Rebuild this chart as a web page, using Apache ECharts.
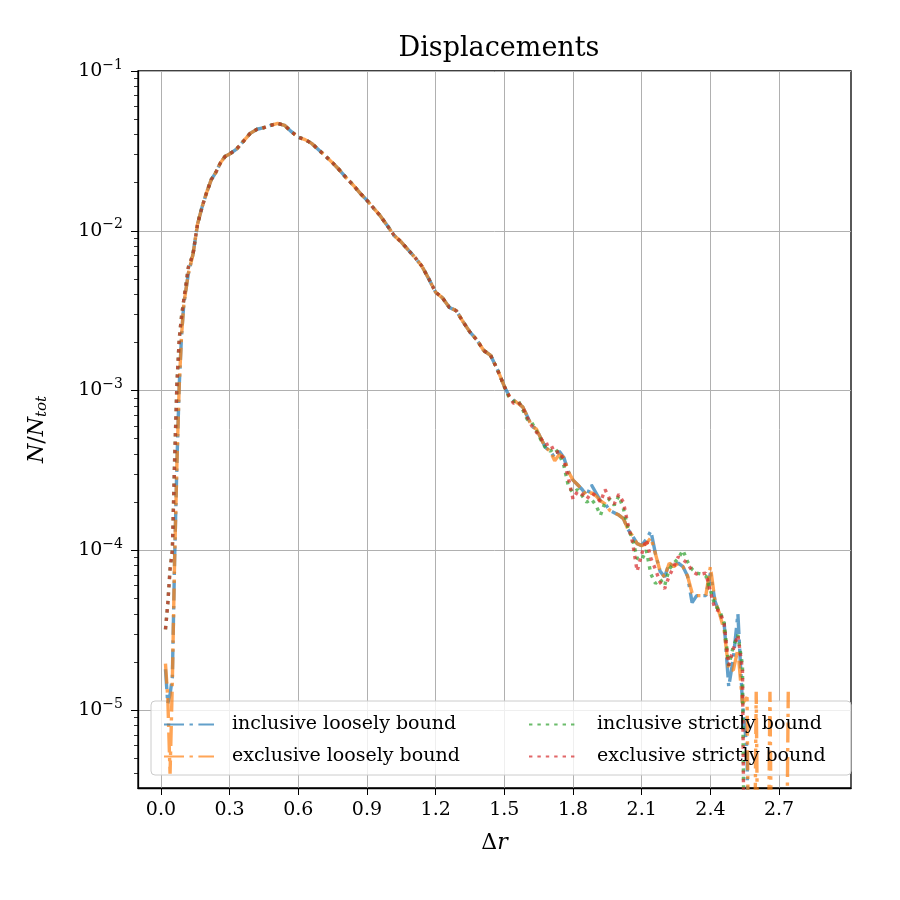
<!DOCTYPE html>
<html>
<head>
<meta charset="utf-8">
<script src="https://cdn.jsdelivr.net/npm/echarts@6/dist/echarts.min.js"></script>
<style>
html, body { margin: 0; padding: 0; background: #fff; }
#chart { width: 900px; height: 900px; }
</style>
</head>
<body>
<div id="chart"></div>
<script>
// displacement bins (x values shared by all four curves)
var xs = [0.02, 0.03, 0.04, 0.05, 0.06, 0.07, 0.08, 0.09, 0.10, 0.12,
    0.14, 0.16, 0.18, 0.20, 0.22, 0.24, 0.26, 0.28, 0.30,
    0.33, 0.36, 0.39, 0.42, 0.45, 0.48, 0.51, 0.54, 0.57, 0.60,
    0.63, 0.66, 0.69, 0.72, 0.75, 0.78, 0.81, 0.84, 0.87, 0.90,
    0.93, 0.96, 0.99, 1.02, 1.05, 1.08, 1.11, 1.14, 1.17, 1.20,
    1.23, 1.26, 1.29, 1.32, 1.35, 1.38, 1.41, 1.44, 1.47, 1.50,
    1.52, 1.54, 1.56, 1.58, 1.60, 1.62, 1.64, 1.66, 1.68, 1.70,
    1.72, 1.74, 1.76, 1.78, 1.80, 1.82, 1.84, 1.86, 1.88, 1.90,
    1.92, 1.94, 1.96, 1.98, 2.00, 2.02, 2.04, 2.06, 2.08, 2.10,
    2.12, 2.14, 2.16, 2.18, 2.20, 2.22, 2.24, 2.26, 2.28, 2.30,
    2.32, 2.34, 2.36, 2.38, 2.40, 2.42, 2.44, 2.46, 2.48, 2.50,
    2.52, 2.54, 2.56, 2.58, 2.60, 2.62, 2.64, 2.66, 2.68, 2.70,
    2.72, 2.74];

// first bins 0.02 - 0.12
var inclLooseHead = [1.8e-5, 1.1e-5, 1.25e-5, 1.6e-5, 8.9e-5, 3.5e-4, 1.07e-3, 2.19e-3, 3.47e-3, 5.4e-3];
var exclLooseHead = [1.95e-5, 1.2e-5, 4e-6, 1.5e-5, 8.9e-5, 3.5e-4, 1.07e-3, 2.19e-3, 3.47e-3, 5.4e-3];
var inclStrictHead = [3.2e-5, 4.6e-5, 7.6e-5, 1.0e-4, 3.7e-4, 1.1e-3, 2.1e-3, 2.9e-3, 3.7e-3, 5.9e-3];
var exclStrictHead = [3.2e-5, 4.6e-5, 7.6e-5, 1.0e-4, 3.7e-4, 1.1e-3, 2.1e-3, 2.9e-3, 3.7e-3, 5.9e-3];

// 0.14 - 1.50, all four curves lie on top of each other here
var core = [7.1e-3, 1.10e-2, 1.41e-2, 1.74e-2, 2.09e-2, 2.32e-2, 2.66e-2, 2.92e-2, 3.02e-2,
    3.24e-2, 3.63e-2, 4.07e-2, 4.32e-2, 4.42e-2, 4.57e-2, 4.70e-2, 4.57e-2, 4.17e-2, 3.85e-2,
    3.72e-2, 3.51e-2, 3.20e-2, 2.92e-2, 2.66e-2, 2.40e-2, 2.14e-2, 1.93e-2, 1.72e-2, 1.55e-2,
    1.38e-2, 1.23e-2, 1.07e-2, 9.3e-3, 8.5e-3, 7.6e-3, 6.8e-3, 6.0e-3, 5.0e-3, 4.12e-3,
    3.80e-3, 3.31e-3, 3.16e-3, 2.69e-3, 2.32e-3, 2.07e-3, 1.78e-3, 1.66e-3, 1.35e-3, 1.06e-3];

// tails from 1.52 on (1e-8 = empty bin, drops below the axis)
var inclLooseTail = [9.3e-4, 8.7e-4, 8.3e-4, 7.9e-4, 6.9e-4, 5.96e-4, 5.75e-4, 5.0e-4, 4.4e-4, 4.17e-4,
    3.8e-4, 4.17e-4, 3.8e-4, 3.1e-4, 2.75e-4, 2.57e-4, 2.4e-4, 2.19e-4, 2.57e-4, 2.29e-4,
    2.04e-4, 1.95e-4, 1.78e-4, 1.72e-4, 1.66e-4, 1.58e-4, 1.35e-4, 1.23e-4, 1.10e-4, 1.07e-4,
    1.17e-4, 1.32e-4, 9.5e-5, 7.4e-5, 6.8e-5, 8.3e-5, 7.9e-5, 8.3e-5, 7.9e-5, 6.9e-5,
    4.7e-5, 5.2e-5, 5.2e-5, 5.2e-5, 7.2e-5, 4.8e-5, 4.0e-5, 3.5e-5, 1.4e-5, 2.1e-5,
    4.0e-5, 1.1e-5, 5.6e-6, 1e-8];
var exclLooseTail = [9.3e-4, 8.7e-4, 8.3e-4, 7.9e-4, 6.9e-4, 5.96e-4, 5.75e-4, 5.0e-4, 4.4e-4, 4.17e-4,
    3.63e-4, 3.98e-4, 3.8e-4, 3.1e-4, 2.75e-4, 2.57e-4, 2.4e-4, 2.19e-4, 2.29e-4, 2.19e-4,
    2.04e-4, 1.95e-4, 1.78e-4, 1.72e-4, 1.66e-4, 1.58e-4, 1.35e-4, 1.23e-4, 1.10e-4, 1.07e-4,
    1.10e-4, 1.20e-4, 9.5e-5, 7.4e-5, 6.8e-5, 8.3e-5, 7.9e-5, 8.3e-5, 7.9e-5, 6.9e-5,
    5.4e-5, 5.2e-5, 5.2e-5, 5.2e-5, 7.9e-5, 4.8e-5, 4.0e-5, 3.16e-5, 1.78e-5, 1.78e-5,
    2.4e-5, 1.1e-5, 1.2e-5, 1e-8, 1.3e-5, 1e-8, 1e-8, 1.3e-5, 1e-8, 1e-8,
    1e-8, 1.3e-5];
var inclStrictTail = [9.1e-4, 8.5e-4, 8.7e-4, 7.6e-4, 6.6e-4, 6.3e-4, 5.6e-4, 4.9e-4, 4.37e-4, 4.17e-4,
    4.37e-4, 3.98e-4, 3.39e-4, 2.51e-4, 2.29e-4, 2.40e-4, 2.19e-4, 2.0e-4, 2.09e-4, 1.91e-4,
    1.66e-4, 2.0e-4, 2.09e-4, 1.91e-4, 2.19e-4, 1.82e-4, 1.38e-4, 1.17e-4, 8.9e-5, 8.7e-5,
    1.0e-4, 7.1e-5, 6.2e-5, 6.6e-5, 6.0e-5, 7.6e-5, 8.3e-5, 8.9e-5, 1.0e-4, 8.5e-5,
    7.6e-5, 7.2e-5, 7.1e-5, 6.9e-5, 5.6e-5, 4.5e-5, 4.2e-5, 3.5e-5, 1.9e-5, 2.5e-5,
    2.95e-5, 1.9e-5, 1e-8];
var exclStrictTail = [9.3e-4, 8.3e-4, 8.5e-4, 7.8e-4, 6.8e-4, 6.0e-4, 5.5e-4, 5.0e-4, 4.57e-4, 4.68e-4,
    4.07e-4, 4.17e-4, 3.63e-4, 2.82e-4, 2.09e-4, 2.34e-4, 2.24e-4, 2.09e-4, 2.29e-4, 2.19e-4,
    2.0e-4, 2.4e-4, 2.09e-4, 1.95e-4, 2.24e-4, 2.0e-4, 1.45e-4, 1.12e-4, 7.4e-5, 9.5e-5,
    1.17e-4, 8.9e-5, 7.6e-5, 6.3e-5, 5.75e-5, 6.9e-5, 7.9e-5, 9.1e-5, 8.7e-5, 8.3e-5,
    7.4e-5, 7.1e-5, 7.1e-5, 7.2e-5, 5.5e-5, 4.27e-5, 4.17e-5, 3.47e-5, 1.9e-5, 2.4e-5,
    2.95e-5, 1.78e-5, 1e-8];

var xTicks = [0.0, 0.3, 0.6, 0.9, 1.2, 1.5, 1.8, 2.1, 2.4, 2.7];
var yTicks = [1e-5, 1e-4, 1e-3, 1e-2, 1e-1];

var FONT = 'DejaVu Serif';

function pairs(head, tail) {
    var ys = head.concat(core, tail);
    var res = [];
    for (var i = 0; i < ys.length; i++) {
        res.push([xs[i], ys[i]]);
    }
    return res;
}

// log minor ticks 2..9 x 10^n
var minorTicks = [];
for (var n = -6; n <= -2; n++) {
    for (var k = 2; k <= 9; k++) {
        minorTicks.push(k * Math.pow(10, n));
    }
}

var dashDot = [20, 5.5, 3.4, 5.5];
var dotted = [3.4, 5];

function makeSeries(name, color, dash, data) {
    return {
        name: name,
        type: 'line',
        data: data,
        showSymbol: false,
        symbol: 'none',
        smooth: false,
        lineStyle: { color: color, width: 3.4, type: dash, opacity: 0.7, cap: 'butt' },
        itemStyle: { color: color, opacity: 0.7 }
    };
}

function legendBlock(names, left) {
    return {
        data: names,
        orient: 'vertical',
        left: left, top: 710,
        itemWidth: 50, itemHeight: 14, itemGap: 13,
        z: 4,
        itemStyle: { opacity: 0 },
        textStyle: { fontFamily: FONT, fontSize: 19, color: '#000', padding: [0, 0, 0, 13] }
    };
}

var myChart = echarts.init(document.getElementById('chart'), null, { renderer: 'canvas' });

var option = {
    animation: false,
    backgroundColor: '#fff',
    title: {
        text: 'Displacements',
        left: 494,
        top: 30,
        textAlign: 'center',
        textStyle: { fontFamily: FONT, fontSize: 27, fontWeight: 'normal', color: '#000' }
    },
    grid: {
        left: 138, right: 49, top: 71, bottom: 112,
        show: true, borderColor: '#000', borderWidth: 1.3, backgroundColor: 'transparent'
    },
    graphic: [{
        type: 'rect',
        z: 3,
        shape: { x: 151, y: 701, width: 700, height: 74, r: 4 },
        style: { fill: 'rgba(255,255,255,0.8)', stroke: '#cccccc', lineWidth: 1 }
    }],
    legend: [
        legendBlock(['inclusive loosely bound', 'exclusive loosely bound'], 158),
        legendBlock(['inclusive strictly bound', 'exclusive strictly bound'], 523)
    ],
    xAxis: {
        type: 'value',
        min: -0.1,
        max: 3.014,
        name: '{g|Δ}{i|r}',
        nameLocation: 'middle',
        nameGap: 44,
        nameTextStyle: {
            rich: {
                g: { fontFamily: FONT, fontSize: 22, color: '#000' },
                i: { fontFamily: FONT, fontSize: 22, fontStyle: 'italic', color: '#000' }
            }
        },
        axisLine: { show: true, onZero: false, lineStyle: { color: '#000', width: 1.3 } },
        axisTick: { show: true, customValues: xTicks, length: 7, inside: false, lineStyle: { color: '#000', width: 1 } },
        axisLabel: {
            customValues: xTicks,
            margin: 13,
            fontFamily: FONT, fontSize: 19, color: '#000',
            formatter: function (v) { return v.toFixed(1); }
        },
        splitLine: { show: true, lineStyle: { color: '#b0b0b0', width: 1 } }
    },
    yAxis: [{
        type: 'log',
        logBase: 10,
        min: 3.25e-6,
        max: 0.1,
        name: '{i|N}{n|/}{i|N}{s|tot}',
        nameLocation: 'middle',
        nameGap: 88,
        nameRotate: 90,
        nameTextStyle: {
            rich: {
                i: { fontFamily: FONT, fontSize: 22, fontStyle: 'italic', color: '#000' },
                n: { fontFamily: FONT, fontSize: 22, color: '#000' },
                s: { fontFamily: FONT, fontSize: 15, fontStyle: 'italic', color: '#000', padding: [10, 0, 0, 0] }
            }
        },
        axisLine: { show: true, onZero: false, lineStyle: { color: '#000', width: 1.3 } },
        axisTick: { show: true, customValues: yTicks, length: 7, lineStyle: { color: '#000', width: 1 } },
        axisLabel: {
            customValues: yTicks,
            margin: 15,
            formatter: function (v) {
                var e = Math.round(Math.log(v) / Math.LN10);
                return '{b|10}{s|\u2212' + Math.abs(e) + '}';
            },
            rich: {
                b: { fontFamily: FONT, fontSize: 19, color: '#000' },
                s: { fontFamily: FONT, fontSize: 14, color: '#000', padding: [0, 0, 12, 0] }
            }
        },
        splitLine: { show: true, lineStyle: { color: '#b0b0b0', width: 1 } }
    }, {
        type: 'log',
        logBase: 10,
        min: 3.25e-6,
        max: 0.1,
        position: 'left',
        axisLine: { show: false, onZero: false },
        axisLabel: { show: false },
        splitLine: { show: false },
        axisTick: { show: true, customValues: minorTicks, length: 4, lineStyle: { color: '#000', width: 0.8 } }
    }],
    series: [
        makeSeries('inclusive loosely bound', '#1f77b4', dashDot, pairs(inclLooseHead, inclLooseTail)),
        makeSeries('exclusive loosely bound', '#ff7f0e', dashDot, pairs(exclLooseHead, exclLooseTail)),
        makeSeries('inclusive strictly bound', '#2ca02c', dotted, pairs(inclStrictHead, inclStrictTail)),
        makeSeries('exclusive strictly bound', '#d62728', dotted, pairs(exclStrictHead, exclStrictTail))
    ]
};

myChart.setOption(option);
</script>
</body>
</html>
